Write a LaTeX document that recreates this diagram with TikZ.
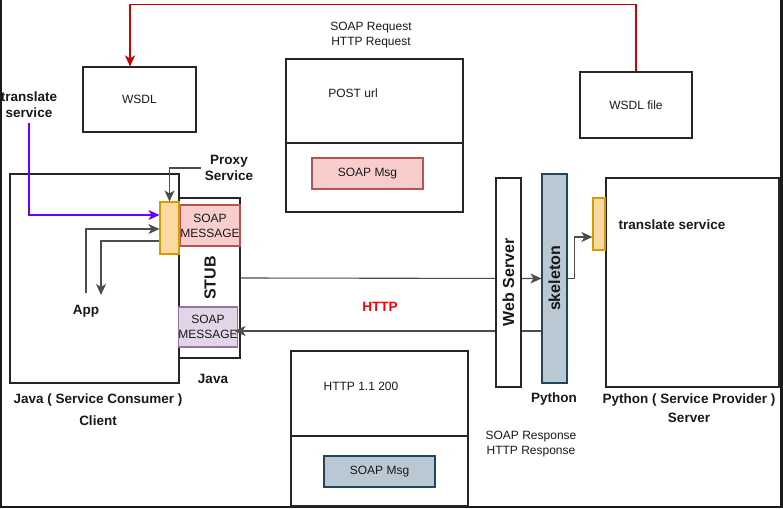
\documentclass[tikz,border=0pt]{standalone}
\usepackage{fontspec}
\setmainfont{Liberation Sans}
\usetikzlibrary{arrows.meta, positioning}

\definecolor{pinkfill}{HTML}{F8CECC}
\definecolor{pinkline}{HTML}{B85450}
\definecolor{lilacfill}{HTML}{E1D5E7}
\definecolor{lilacline}{HTML}{9673A6}
\definecolor{orangefill}{HTML}{FAD9A2}
\definecolor{orangeline}{HTML}{D79B00}
\definecolor{steelfill}{HTML}{BAC8D3}
\definecolor{steelline}{HTML}{23445D}
\definecolor{wireline}{HTML}{4D4D4D}
\definecolor{wsdlred}{HTML}{CC0000}
\definecolor{purpleline}{HTML}{6A00FF}
\definecolor{framedark}{HTML}{1A1A1A}

\begin{document}
\begin{tikzpicture}[
    x=1pt, y=-1pt,
    font=\fontsize{12}{15}\selectfont,
    text=black!90,
    box/.style={draw=black!85, line width=1.1pt, fill=white, inner sep=0pt},
    pinkbox/.style={draw=pinkline, line width=1.1pt, fill=pinkfill, inner sep=0pt, align=center},
    lilacbox/.style={draw=lilacline, line width=1.1pt, fill=lilacfill, inner sep=0pt, align=center},
    orangebox/.style={draw=orangeline, line width=1.1pt, fill=orangefill, inner sep=0pt},
    steelbox/.style={draw=steelline, line width=1.1pt, fill=steelfill, inner sep=0pt},
    boldlabel/.style={font=\fontsize{13.5}{16}\selectfont\bfseries, align=center},
    sidelabel/.style={font=\fontsize{16}{18}\selectfont\bfseries, rotate=90},
    wire/.style={draw=wireline, line width=1.1pt},
    arrowtip/.style={-{Stealth[length=11pt, width=10pt, inset=3pt]}}
]
    % Frame
    \useasboundingbox (0,0) rectangle (783,508);
    \fill[framedark] (0,0) rectangle (783,508);
    \fill[white] (1.5,0) rectangle (780,506);

    % WSDL boxes
    \node[box, minimum width=113, minimum height=65] (wsdl) at (139.5,99.5) {WSDL};
    \node[box, minimum width=112, minimum height=66] (wsdlfile) at (636,105) {WSDL file};

    % Request message
    \node[align=center] (reqlabel) at (371,35.5) {SOAP Request\\HTTP Request};
    \node[box, minimum width=177, minimum height=84] (postbox) at (374.5,101) {};
    \node[box, minimum width=177, minimum height=69] (postbody) at (374.5,177.5) {};
    \node (posturl) at (353,93) {POST url};
    \node[pinkbox, minimum width=111, minimum height=31] (reqmsg) at (367.5,173.5) {SOAP Msg};

    % Client side
    \node[box, minimum width=169, minimum height=209] (client) at (94.5,278.5) {};
    \node[box, minimum width=61, minimum height=160] (stub) at (209.5,278) {};
    \node[pinkbox, minimum width=60, minimum height=41] (stubout) at (210,225.5) {SOAP\\MESSAGE};
    \node[lilacbox, minimum width=58, minimum height=40] (stubin) at (208,327) {SOAP\\MESSAGE};
    \node[sidelabel] (stublabel) at (210,278) {STUB};
    \node[orangebox, minimum width=19, minimum height=52] (proxy) at (169.5,228) {};

    \node[boldlabel] (tlabel) at (29,105) {translate\\service};
    \node[boldlabel] (plabel) at (229,168) {Proxy\\Service};
    \node[boldlabel] (app) at (86,311) {App};
    \coordinate (appin) at (101,295);
    \node[boldlabel] (javalabel) at (213,379) {Java};
    \node[boldlabel, font=\fontsize{13.5}{22}\selectfont\bfseries] (clientlabel) at (98,410) {Java ( Service Consumer )\\Client};

    % Server side
    \node[steelbox, minimum width=25, minimum height=209] (skeleton) at (554.5,278.5) {};
    \node[sidelabel] at (554.5,278.5) {skeleton};
    \node[box, minimum width=173, minimum height=209] (server) at (692.5,282.5) {};
    \node[orangebox, minimum width=12, minimum height=52] (sproxy) at (599,224) {};
    \node[boldlabel] (servicelabel) at (672,225) {translate service};
    \node[boldlabel] (pylabel) at (554,399) {Python};
    \node[boldlabel, font=\fontsize{13.5}{19}\selectfont\bfseries] (serverlabel) at (689,408.5) {Python ( Service Provider )\\Server};

    % Response message
    \node[box, minimum width=177, minimum height=85] (respbox) at (379.5,393.5) {};
    \node[box, minimum width=177, minimum height=70] (respbody) at (379.5,471) {};
    \node (status) at (361,386) {HTTP 1.1 200};
    \node[steelbox, minimum width=111, minimum height=31] (respmsg) at (379.5,471.5) {SOAP Msg};
    \node[align=center] (resplabel) at (531,444) {SOAP Response\\HTTP Response};

    % Connections
    \draw[draw=wsdlred, line width=1.1pt, arrowtip] (wsdlfile.north) -- ++(0,-67) -| ([xshift=-9.5pt]wsdl.north);
    \draw[draw=purpleline, line width=1.1pt, arrowtip] ([yshift=-2pt]tlabel.south) |- ([yshift=13pt]proxy.west);
    \draw[wire, arrowtip] (plabel.west) -| (proxy.north);
    \draw[wire, arrowtip] ([yshift=8pt]app.north) |- ([yshift=-1pt]proxy.west);
    \draw[wire, arrowtip] ([yshift=-13pt]proxy.west) -| (appin);

    \draw[wire, arrowtip] (stub.east) -- (skeleton.west);
    \coordinate (skret) at ([yshift=-52.5pt]skeleton.west);
    \draw[wire, arrowtip, shorten >=-6pt] (skret) -- (stub.east |- skret);
    \draw[wire, arrowtip] (skeleton.east) -- ++(7,0) |- ([yshift=-13pt]sproxy.west);
    \node[boldlabel, text=red] (httplabel) at (380,307) {HTTP};

    % Web server over the wires
    \node[box, minimum width=25, minimum height=209] (webserver) at (508.5,282.5) {};
    \node[sidelabel] at (508.5,282.5) {Web Server};
\end{tikzpicture}
\end{document}
